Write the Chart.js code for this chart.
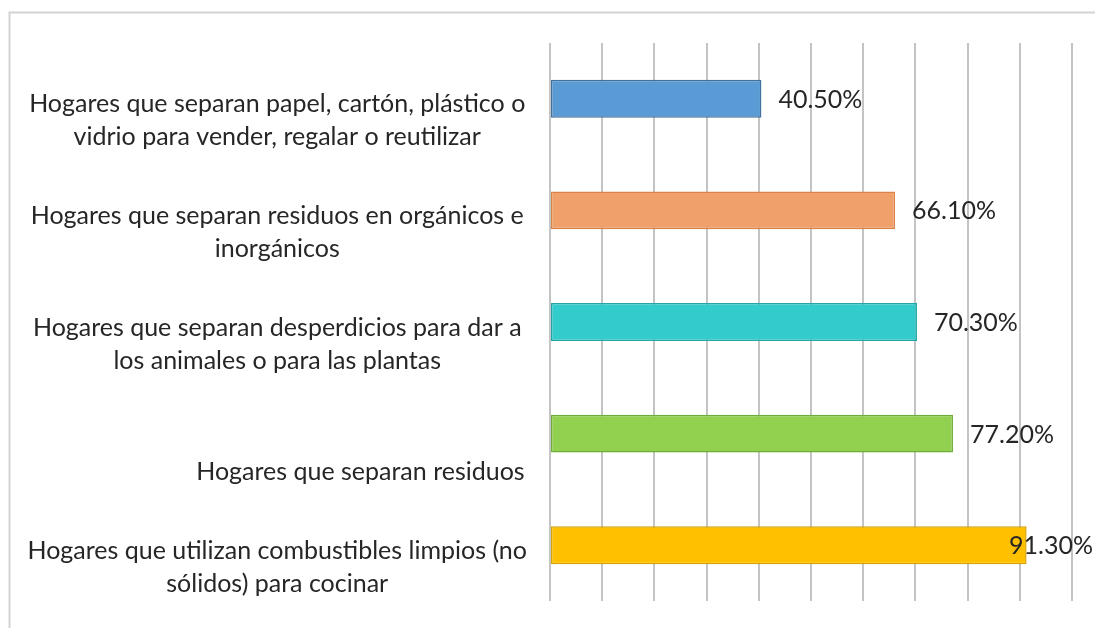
<!DOCTYPE html>
<html>
  <head>
    <meta charset="utf-8"/>
    <script src="https://cdn.jsdelivr.net/npm/chart.js@4/dist/chart.umd.min.js"></script>
    <style>
      html, body { margin: 0; padding: 0; background: #fff; }
      #holder { width: 1095px; height: 628px; }
    </style>
  </head>
  <body>
    <div id="holder"><canvas id="chart-area"></canvas></div>
    <script>
      var categories = [
        ['Hogares que separan papel, cartón, plástico o', 'vidrio para vender, regalar o reutilizar'],
        ['Hogares que separan residuos en orgánicos e', 'inorgánicos'],
        ['Hogares que separan desperdicios para dar a', 'los animales o para las plantas'],
        'Hogares que separan residuos',
        ['Hogares que utilizan combustibles limpios (no', 'sólidos) para cocinar']
      ];
      var values = [40.5, 66.1, 70.3, 77.2, 91.3];
      var valueLabels = ['40.50%', '66.10%', '70.30%', '77.20%', '91.30%'];
      var fillColors = ['#5b9bd5', '#f0a06a', '#33cccc', '#92d050', '#ffc000'];
      var edgeColors = ['#41719c', '#d9824a', '#20a8a8', '#6fad3a', '#d9a300'];

      var FONT = 'Lato, "Open Sans", sans-serif';

      // outer frame like the pasted excel chart
      var framePlugin = {
        id: 'frame',
        beforeDraw: function(chart) {
          var ctx = chart.ctx;
          ctx.save();
          ctx.strokeStyle = '#d4d4d4';
          ctx.lineWidth = 2;
          ctx.beginPath();
          ctx.moveTo(9.5, chart.height);
          ctx.lineTo(9.5, 12.5);
          ctx.lineTo(chart.width, 12.5);
          ctx.stroke();
          ctx.restore();
        }
      };

      // value labels at bar ends, kept inside the canvas
      var valuePlugin = {
        id: 'values',
        afterDatasetsDraw: function(chart) {
          var ctx = chart.ctx;
          var meta = chart.getDatasetMeta(0);
          ctx.save();
          ctx.font = '25px ' + FONT;
          ctx.fillStyle = '#262626';
          ctx.textBaseline = 'middle';
          ctx.textAlign = 'left';
          meta.data.forEach(function(bar, i) {
            var txt = valueLabels[i];
            var w = ctx.measureText(txt).width;
            var x = bar.x + 17;
            if (x + w > chart.width - 2) x = chart.width - 2 - w;
            ctx.fillText(txt, x, bar.y + 1);
          });
          ctx.restore();
        }
      };

      var ctx = document.getElementById('chart-area').getContext('2d');
      var chart = new Chart(ctx, {
        type: 'bar',
        data: {
          labels: categories,
          datasets: [{
            data: values,
            backgroundColor: fillColors,
            borderColor: edgeColors,
            borderWidth: 1.5,
            borderSkipped: false,
            barPercentage: 0.34,
            categoryPercentage: 1
          }]
        },
        options: {
          indexAxis: 'y',
          responsive: true,
          maintainAspectRatio: false,
          animation: false,
          layout: { padding: { left: 10, right: 23, top: 43, bottom: 27 } },
          plugins: {
            legend: { display: false },
            tooltip: { enabled: false }
          },
          scales: {
            x: {
              min: 0,
              max: 100,
              ticks: { display: false, stepSize: 10 },
              grid: { color: '#c4c4c4', lineWidth: 2, drawTicks: false },
              border: { display: false }
            },
            y: {
              grid: { display: false },
              border: { display: false },
              ticks: {
                crossAlign: 'center',
                padding: 15,
                color: '#262626',
                font: { family: FONT, size: 25, lineHeight: 1.32 },
                labelOffset: 22,
                callback: function(value, index) {
                  var lbl = this.getLabelForValue(value);
                  // single-line label sits low and to the right in the original
                  if (typeof lbl === 'string') return ['', ' '.repeat(26) + lbl];
                  return lbl;
                }
              },
              afterFit: function(scale) {
                scale.width = 540;
                scale.paddingTop = 0;
                scale.paddingBottom = 0;
              }
            }
          }
        },
        plugins: [framePlugin, valuePlugin]
      });
    </script>
  </body>
</html>
